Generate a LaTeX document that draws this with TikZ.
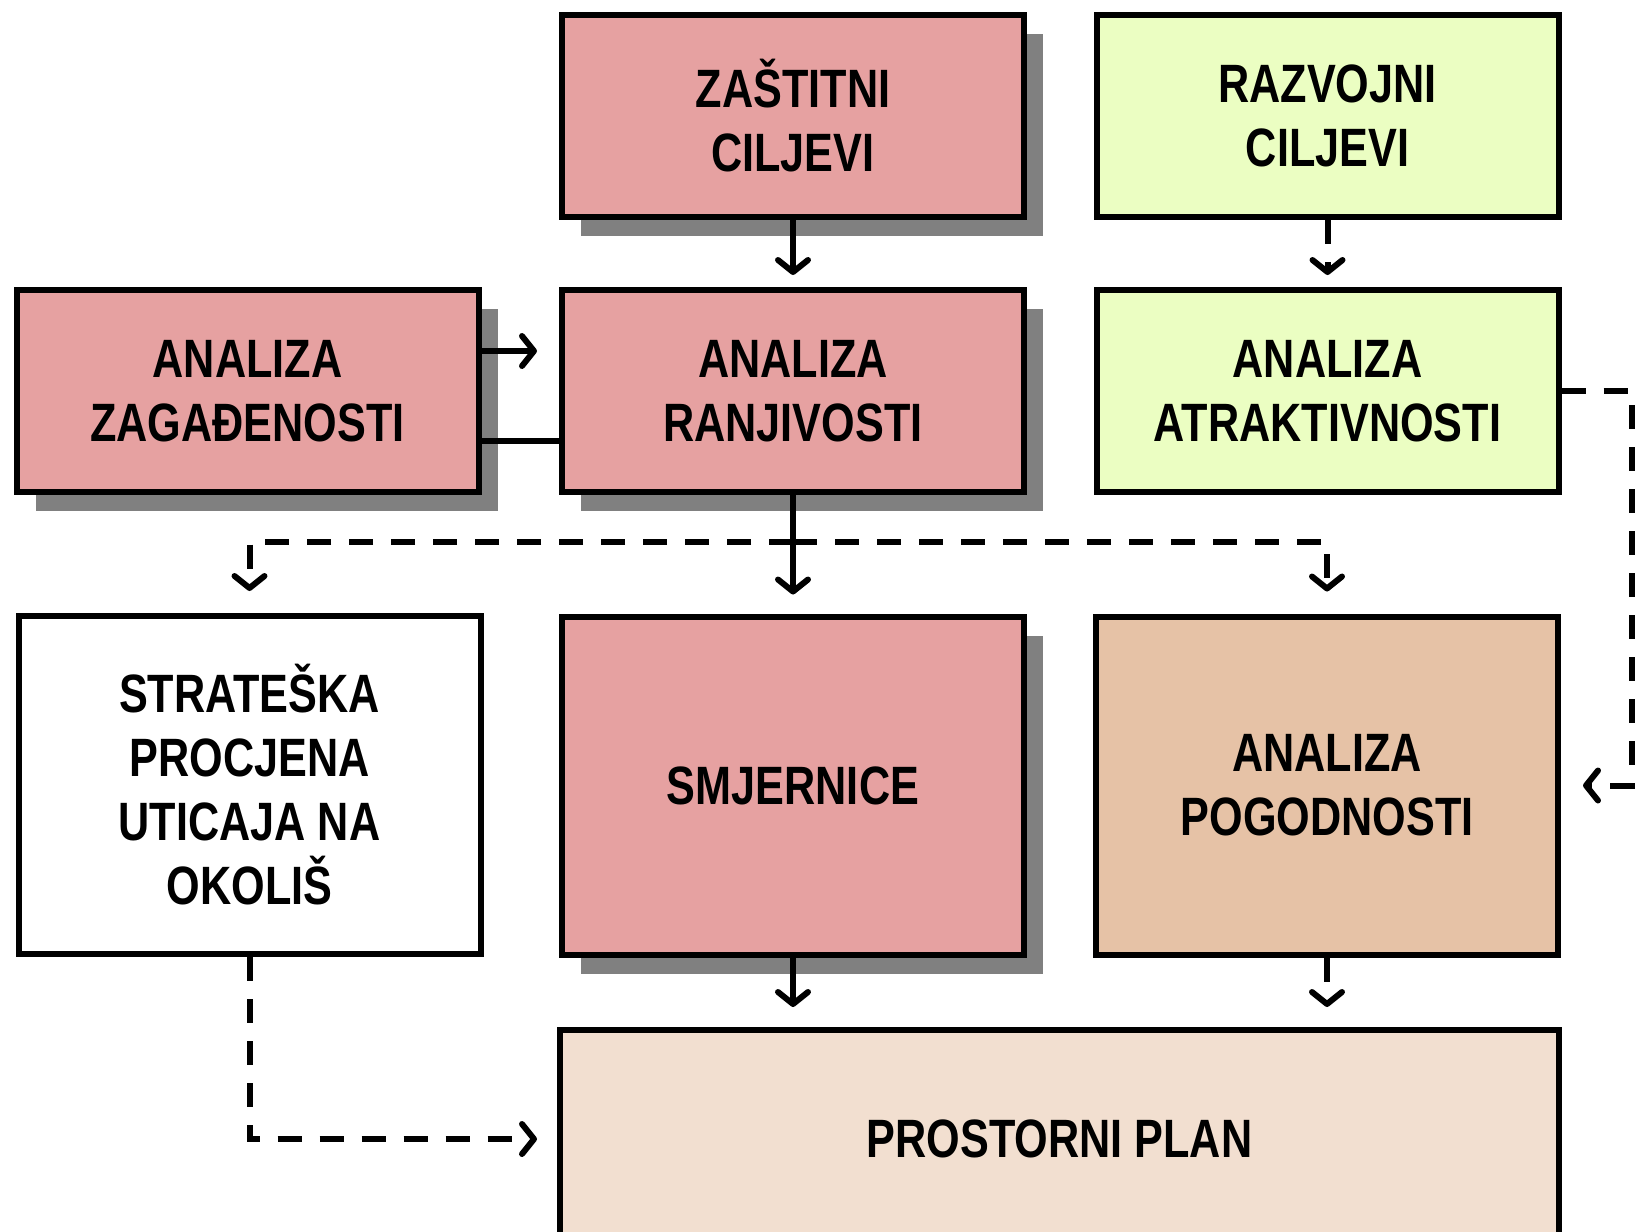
\documentclass[tikz,border=0pt]{standalone}
\usepackage{fontspec}
\setmainfont{Liberation Sans}[FakeStretch=0.80]
\usepackage{tikz}
\usetikzlibrary{arrows.meta,shadows}

\definecolor{roza}{HTML}{E6A1A1}
\definecolor{zelena}{HTML}{EBFEC2}
\definecolor{smeda}{HTML}{E6C2A6}
\definecolor{krem}{HTML}{F2DFD0}
\definecolor{sjena}{HTML}{808080}

\begin{document}
\begin{tikzpicture}[x=0.5pt,y=-0.5pt]
			\tikzstyle{kutija} = [draw, line width=3pt, rectangle, align=center, font=\fontsize{27pt}{32pt}\selectfont\bfseries, minimum width=231pt]
			\tikzstyle{gornja} = [kutija, minimum height=101pt]
			\tikzstyle{donja} = [kutija, minimum height=169pt]
			\tikzstyle{sjenka} = [drop shadow={shadow xshift=9.5pt, shadow yshift=-9.5pt, fill=sjena, opacity=1}]
			\tikzstyle{veza} = [line width=3pt, -{Straight Barb[length=6pt, width=15pt, round]}]
			\tikzstyle{isprekidano} = [dash pattern=on 12pt off 9pt]
			\useasboundingbox (0,0) rectangle (1635,1232);
			\clip (0,0) rectangle (1635,1232);
			\node[gornja, sjenka, fill=roza] (zastitni) at (793,116) {ZAŠTITNI\\CILJEVI};
			\node[gornja, fill=zelena] (razvojni) at (1327.5,116) {RAZVOJNI\\CILJEVI};
			\node[gornja, sjenka, fill=roza] (zagadjenost) at (247.5,391) {ANALIZA\\ZAGAĐENOSTI};
			\node[gornja, sjenka, fill=roza] (ranjivost) at (793,391) {ANALIZA\\RANJIVOSTI};
			\node[gornja, fill=zelena] (atraktivnost) at (1327.5,391) {ANALIZA\\ATRAKTIVNOSTI};
			\node[donja, fill=white] (strateska) at (249.5,785) {STRATEŠKA\\PROCJENA\\UTICAJA NA\\OKOLIŠ};
			\node[donja, sjenka, fill=roza] (smjernice) at (793,785.5) {SMJERNICE};
			\node[donja, fill=smeda] (pogodnost) at (1327,785.5) {ANALIZA\\POGODNOSTI};
			\node[kutija, fill=krem, minimum width=499.5pt, minimum height=109pt] (plan) at (1059.5,1139) {PROSTORNI PLAN};
			\coordinate (grana) at ([yshift=-23.5pt]ranjivost.south);
			\draw[veza, shorten >=6pt] (zastitni) -- (ranjivost);
			\draw[veza, isprekidano, shorten >=6pt] (razvojni) -- (atraktivnost);
			\draw[veza, shorten >=11pt] ([yshift=20pt]zagadjenost.east) -- ([yshift=20pt]zagadjenost.east -| ranjivost.west);
			\draw[line width=3pt] ([yshift=-25pt]zagadjenost.east) -- ([yshift=-25pt]zagadjenost.east -| ranjivost.west);
			\draw[veza, shorten >=9.5pt] (ranjivost) -- (smjernice);
			\draw[veza, isprekidano, shorten >=11pt] (grana) -| (strateska.north);
			\draw[veza, isprekidano, shorten >=11pt] (grana) -| (pogodnost.north);
			\draw[veza, isprekidano, shorten >=11pt] (atraktivnost.east) -- ++(70,0) |- (pogodnost.east);
			\draw[veza, shorten >=10pt] (smjernice) -- (smjernice.south |- plan.north);
			\draw[veza, isprekidano, shorten >=10pt] (pogodnost) -- (pogodnost.south |- plan.north);
			\draw[veza, isprekidano, shorten >=10pt] (strateska.south) |- (plan.west);
		\end{tikzpicture}
\end{document}
